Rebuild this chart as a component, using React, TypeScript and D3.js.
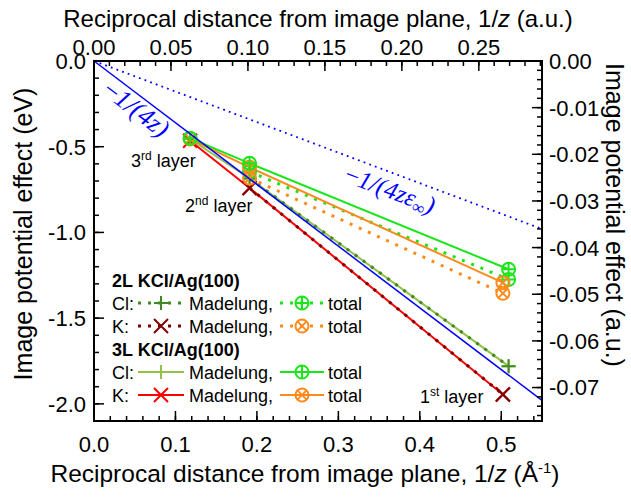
import React from 'react';
import * as d3 from 'd3';

const W = 631, H = 500;
const X0 = 94, X1 = 542, Y0 = 61, Y1 = 421;
const BOHR = 0.529177;
const HARTREE = 27.2114;

// axis ticks
const xBottomTicks = [0, 0.1, 0.2, 0.3, 0.4, 0.5];
const xTopTicks = [0, 0.05, 0.1, 0.15, 0.2, 0.25];
const yLeftTicks = [0, -0.5, -1.0, -1.5, -2.0];
const yRightTicks = [0, -0.01, -0.02, -0.03, -0.04, -0.05, -0.06, -0.07];

// reference lines (1/z in Å^-1, energy in eV)
const refX = [0, 0.55];
const imageLineY = [0, -1.98];       // -1/(4z)
const dielectricLineY = [0, -0.98];  // -1/(4z eps_inf)

// layer positions (1/z, Å^-1)
const xCl3L = [0.118, 0.191, 0.509];
const xK3L = [0.118, 0.191, 0.502];
const xCl2L = [0.191, 0.509];
const xK2L = [0.191, 0.502];

// 3L KCl/Ag(100)
const clMadelung3L = [-0.455, -0.685, -1.78];
const kMadelung3L = [-0.465, -0.741, -1.945];
const clTotal3L = [-0.45, -0.597, -1.215];
const kTotal3L = [-0.455, -0.62, -1.293];
// 2L KCl/Ag(100)
const clMadelung2L = [-0.685, -1.78];
const kMadelung2L = [-0.741, -1.945];
const clTotal2L = [-0.646, -1.274];
const kTotal2L = [-0.683, -1.355];

const FONT = '"Liberation Sans", Arial, sans-serif';
const SERIF = '"Liberation Serif", "Times New Roman", serif';

const C_CLMAD3 = '#93c047';
const C_CLMAD2 = '#3f8a22';
const C_KMAD3 = '#ff0000';
const C_KMAD2 = '#800000';
const C_CLTOT = '#19e619';
const C_KTOT = '#ff8a1c';
const C_BLUE = '#0000ff';
const DOT = '3,7';

type Kind = 'plus' | 'cross' | 'oplus' | 'otimes';

function Marker({ kind, cx, cy, color }: { kind: Kind; cx: number; cy: number; color: string }) {
  const s = 7, r = 6.5, t = 4.6;
  if (kind === 'plus')
    return <path d={`M${cx - s},${cy}H${cx + s}M${cx},${cy - s}V${cy + s}`} stroke={color} strokeWidth={2} fill="none" />;
  if (kind === 'cross')
    return <path d={`M${cx - s},${cy - s}L${cx + s},${cy + s}M${cx - s},${cy + s}L${cx + s},${cy - s}`} stroke={color} strokeWidth={2} fill="none" />;
  if (kind === 'oplus')
    return (
      <g stroke={color} strokeWidth={2} fill="none">
        <circle cx={cx} cy={cy} r={r} />
        <path d={`M${cx - r},${cy}H${cx + r}M${cx},${cy - r}V${cy + r}`} />
      </g>
    );
  return (
    <g stroke={color} strokeWidth={2} fill="none">
      <circle cx={cx} cy={cy} r={r} />
      <path d={`M${cx - t},${cy - t}L${cx + t},${cy + t}M${cx - t},${cy + t}L${cx + t},${cy - t}`} />
    </g>
  );
}

export default function App() {
  const x = d3.scaleLinear().domain([0, 0.55]).range([X0, X1]);
  const y = d3.scaleLinear().domain([0, -2.1]).range([Y0, Y1]);
  const xTop = d3.scaleLinear().domain([0, 0.55 * BOHR]).range([X0, X1]);
  const yRight = d3.scaleLinear().domain([0, -2.1 / HARTREE]).range([Y0, Y1]);
  const line = d3.line<[number, number]>().x(d => x(d[0])).y(d => y(d[1]));

  const pts = (xs: number[], ys: number[]) => xs.map((v, i) => [v, ys[i]] as [number, number]);

  const series = [
    { xs: xCl3L, ys: clMadelung3L, color: C_CLMAD3, kind: 'plus' as Kind, dash: undefined },
    { xs: xK3L, ys: kMadelung3L, color: C_KMAD3, kind: 'cross' as Kind, dash: undefined },
    { xs: xCl2L, ys: clMadelung2L, color: C_CLMAD2, kind: 'plus' as Kind, dash: DOT },
    { xs: xK2L, ys: kMadelung2L, color: C_KMAD2, kind: 'cross' as Kind, dash: DOT },
    { xs: xCl2L, ys: clTotal2L, color: C_CLTOT, kind: 'oplus' as Kind, dash: DOT },
    { xs: xK2L, ys: kTotal2L, color: C_KTOT, kind: 'otimes' as Kind, dash: DOT },
    { xs: xK3L, ys: kTotal3L, color: C_KTOT, kind: 'otimes' as Kind, dash: undefined },
    { xs: xCl3L, ys: clTotal3L, color: C_CLTOT, kind: 'oplus' as Kind, dash: undefined },
  ];

  const minorBottom = d3.range(0, 0.5501, 0.02);
  const minorTop = d3.range(0, 0.55 * BOHR + 1e-6, 0.01);
  const minorLeft = d3.range(0, -2.1001, -0.1);
  const minorRight = d3.range(0, -2.1 / HARTREE - 1e-6, -0.002);
  const MAJ = 10, MIN = 5;

  const angle1 = (Math.atan2(y(imageLineY[1]) - y(0), x(refX[1]) - x(0)) * 180) / Math.PI;
  const angle2 = (Math.atan2(y(dielectricLineY[1]) - y(0), x(refX[1]) - x(0)) * 180) / Math.PI;

  // legend layout
  const LX = 112;
  const rows = [310, 333, 379, 402];
  const legendItems = [
    { label: 'Cl:', mad: { color: C_CLMAD2, kind: 'plus' as Kind, dash: DOT }, tot: { color: C_CLTOT, kind: 'oplus' as Kind, dash: DOT } },
    { label: 'K:', mad: { color: C_KMAD2, kind: 'cross' as Kind, dash: DOT }, tot: { color: C_KTOT, kind: 'otimes' as Kind, dash: DOT } },
    { label: 'Cl:', mad: { color: C_CLMAD3, kind: 'plus' as Kind, dash: undefined }, tot: { color: C_CLTOT, kind: 'oplus' as Kind, dash: undefined } },
    { label: 'K:', mad: { color: C_KMAD3, kind: 'cross' as Kind, dash: undefined }, tot: { color: C_KTOT, kind: 'otimes' as Kind, dash: undefined } },
  ];

  return (
    <svg width={W} height={H} style={{ position: 'absolute', left: 0, top: 0, background: '#fff' }} fontFamily={FONT}>
      {/* data lines */}
      {series.map((s, i) => (
        <path key={'l' + i} d={line(pts(s.xs, s.ys)) || ''} fill="none" stroke={s.color}
          strokeWidth={s.dash ? 3 : 2} strokeDasharray={s.dash} />
      ))}
      {series.map((s, i) => (
        <g key={'m' + i}>
          {s.xs.map((v, j) => <Marker key={j} kind={s.kind} cx={x(v)} cy={y(s.ys[j])} color={s.color} />)}
        </g>
      ))}
      {/* reference lines */}
      <path d={line(pts(refX, imageLineY)) || ''} stroke={C_BLUE} strokeWidth={1.5} fill="none" />
      <path d={line(pts(refX, dielectricLineY)) || ''} stroke={C_BLUE} strokeWidth={1.8} fill="none" strokeDasharray="1.8,4.2" />
      <text transform={`translate(101,93) rotate(${angle1})`} fill={C_BLUE} fontFamily={SERIF} fontStyle="italic" fontSize={26}>
        <tspan fontStyle="normal">−</tspan>1/(4z)
      </text>
      <text transform={`translate(343,181) rotate(${angle2})`} fill={C_BLUE} fontFamily={SERIF} fontStyle="italic" fontSize={25}>
        <tspan fontStyle="normal">−</tspan>1/(4zε<tspan fontSize={17} dy={4}>∞</tspan><tspan dy={-4}>)</tspan>
      </text>

      {/* layer labels */}
      <text x={131} y={167} fontSize={18}>3<tspan fontSize={12} dy={-7}>rd</tspan><tspan dy={7}> layer</tspan></text>
      <text x={185} y={212} fontSize={18}>2<tspan fontSize={12} dy={-7}>nd</tspan><tspan dy={7}> layer</tspan></text>
      <text x={420} y={403} fontSize={18}>1<tspan fontSize={12} dy={-7}>st</tspan><tspan dy={7}> layer</tspan></text>

      {/* legend */}
      <text x={LX} y={287} fontSize={18} fontWeight="bold">2L KCl/Ag(100)</text>
      <text x={LX} y={356} fontSize={18} fontWeight="bold">3L KCl/Ag(100)</text>
      {legendItems.map((it, i) => {
        const ry = rows[i];
        const my = ry - 7;
        return (
          <g key={'lg' + i}>
            <text x={LX} y={ry} fontSize={18}>{it.label}</text>
            <line x1={138} x2={184} y1={my} y2={my} stroke={it.mad.color} strokeWidth={it.mad.dash ? 3 : 2} strokeDasharray={it.mad.dash} />
            <Marker kind={it.mad.kind} cx={161} cy={my} color={it.mad.color} />
            <text x={189} y={ry} fontSize={18}>Madelung,</text>
            <line x1={280} x2={324} y1={my} y2={my} stroke={it.tot.color} strokeWidth={it.tot.dash ? 3 : 2} strokeDasharray={it.tot.dash} />
            <Marker kind={it.tot.kind} cx={302} cy={my} color={it.tot.color} />
            <text x={328} y={ry} fontSize={18}>total</text>
          </g>
        );
      })}

      {/* frame */}
      <rect x={X0} y={Y0} width={X1 - X0} height={Y1 - Y0} fill="none" stroke="#000" strokeWidth={2} />

      {/* ticks */}
      <g stroke="#000" strokeWidth={1.5}>
        {minorBottom.map((v, i) => <line key={'bm' + i} x1={x(v)} x2={x(v)} y1={Y1} y2={Y1 - MIN} />)}
        {xBottomTicks.map((v, i) => <line key={'bM' + i} x1={x(v)} x2={x(v)} y1={Y1} y2={Y1 - MAJ} />)}
        {minorTop.map((v, i) => <line key={'tm' + i} x1={xTop(v)} x2={xTop(v)} y1={Y0} y2={Y0 + MIN} />)}
        {xTopTicks.map((v, i) => <line key={'tM' + i} x1={xTop(v)} x2={xTop(v)} y1={Y0} y2={Y0 + MAJ} />)}
        {minorLeft.map((v, i) => <line key={'lm' + i} x1={X0} x2={X0 + MIN} y1={y(v)} y2={y(v)} />)}
        {yLeftTicks.map((v, i) => <line key={'lM' + i} x1={X0} x2={X0 + MAJ} y1={y(v)} y2={y(v)} />)}
        {minorRight.map((v, i) => <line key={'rm' + i} x1={X1} x2={X1 - MIN} y1={yRight(v)} y2={yRight(v)} />)}
        {yRightTicks.map((v, i) => <line key={'rM' + i} x1={X1} x2={X1 - MAJ} y1={yRight(v)} y2={yRight(v)} />)}
      </g>

      {/* tick labels */}
      <g fontSize={22} fill="#000">
        {xBottomTicks.map((v, i) => <text key={'bl' + i} x={x(v)} y={452} textAnchor="middle">{d3.format('.1f')(v)}</text>)}
        {xTopTicks.map((v, i) => <text key={'tl' + i} x={xTop(v)} y={55} textAnchor="middle">{d3.format('.2f')(v)}</text>)}
        {yLeftTicks.map((v, i) => <text key={'ll' + i} x={86} y={y(v)} dy="0.36em" textAnchor="end">{d3.format('.1f')(v).replace('−', '-')}</text>)}
        {yRightTicks.map((v, i) => <text key={'rl' + i} x={549} y={yRight(v)} dy="0.36em" textAnchor="start">{d3.format('.2f')(v).replace('−', '-')}</text>)}
      </g>

      {/* axis titles */}
      <text x={305} y={482} fontSize={24.5} textAnchor="middle">
        Reciprocal distance from image plane, 1/<tspan fontStyle="italic">z</tspan> (Å<tspan fontSize={15} dy={-9}>-1</tspan><tspan dy={9}>)</tspan>
      </text>
      <text x={318} y={27} fontSize={24} textAnchor="middle">
        Reciprocal distance from image plane, 1/<tspan fontStyle="italic">z</tspan> (a.u.)
      </text>
      <text transform="translate(32,234) rotate(-90)" fontSize={25} textAnchor="middle">Image potential effect (eV)</text>
      <text transform="translate(606,215) rotate(90)" fontSize={25} textAnchor="middle">Image potential effect (a.u.)</text>
    </svg>
  );
}
